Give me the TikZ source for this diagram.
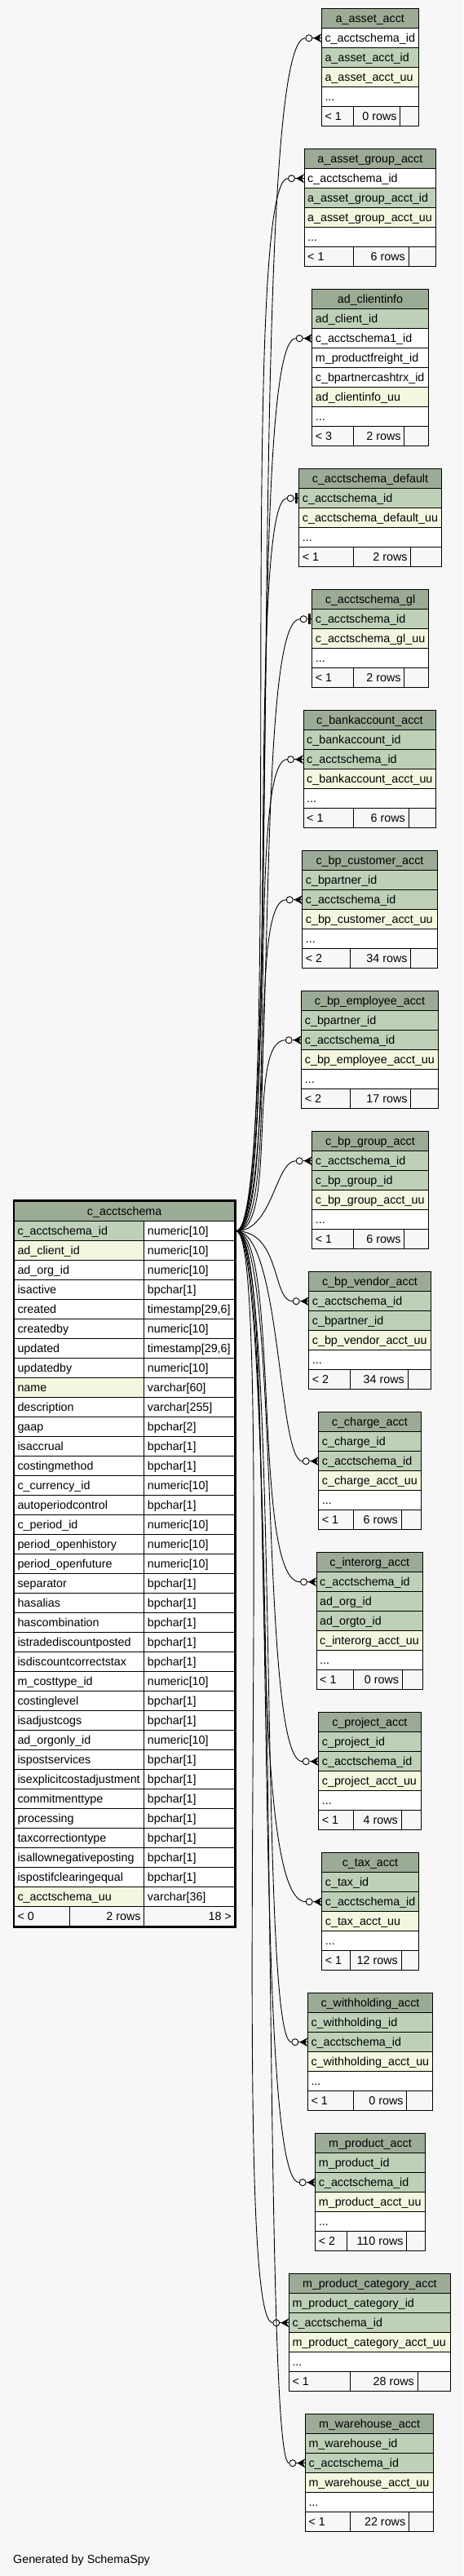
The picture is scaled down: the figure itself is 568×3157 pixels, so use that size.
\documentclass[tikz,border=0pt]{standalone}
\usepackage{fontspec}
\setmainfont{Liberation Sans}
\definecolor{bgc}{HTML}{F7F7F7}
\definecolor{hdc}{HTML}{9CAB96}
\definecolor{pkc}{HTML}{BED1B8}
\definecolor{ixc}{HTML}{F4F7E0}
\definecolor{wc}{HTML}{FFFFFF}
\newcommand\tf{\fontsize{14.3}{17}\selectfont}
\tikzset{
  cellb/.style={draw=black, line width=0.9pt, inner sep=0pt, outer sep=0pt, anchor=north west},
  txt/.style={inner sep=0pt, font=\tf, anchor=base west},
  edge/.style={draw=black, line width=0.9pt},
  dotc/.style={circle, draw=black, fill=white, line width=0.9pt, minimum size=8pt, inner sep=0pt},
}
\newcommand\Cell[6]{%
  \node[cellb, fill=#6, minimum width={(#4)*1pt-(#2)*1pt}, minimum height={(#5)*1pt-(#3)*1pt}] (#1) at ({#2},{#3}) {};}
\newcommand\tabset[4]{\def\Tid{#1}\def\Txa{#2}\def\Ttop{#3}\def\Txb{#4}}
\newcommand\tabhead[1]{%
  \Cell{\Tid-h}{\Txa}{\Ttop}{\Txb}{\Ttop+24}{hdc}
  \node[txt, anchor=base] (\Tid-ht) at ([yshift=-5pt]\Tid-h.center) {#1};}
\newcommand\tabrow[3]{%
  \Cell{\Tid-#1}{\Txa}{\Ttop+24+24*#1}{\Txb}{\Ttop+48+24*#1}{#2}
  \node[txt] (\Tid-#1t) at ([xshift=4pt,yshift=-5pt]\Tid-#1.west) {#3};}
\newcommand\tabfoot[5]{%
  \Cell{\Tid-f1}{\Txa}{\Ttop+24+24*#1}{#2}{\Ttop+48+24*#1}{bgc}
  \Cell{\Tid-f2}{#2}{\Ttop+24+24*#1}{#3}{\Ttop+48+24*#1}{bgc}
  \Cell{\Tid-f3}{#3}{\Ttop+24+24*#1}{\Txb}{\Ttop+48+24*#1}{bgc}
  \node[txt] (\Tid-fl) at ([xshift=4pt,yshift=-5pt]\Tid-f1.west) {#4};
  \node[txt, anchor=base east] (\Tid-fm) at ([xshift=-4pt,yshift=-5pt]\Tid-f2.east) {#5};}
\newcommand\MR[4]{%
  \Cell{m-#1}{17.3}{1496.7+24*#1}{176.7}{1520.7+24*#1}{#4}
  \Cell{m-#1y}{176.7}{1496.7+24*#1}{288}{1520.7+24*#1}{wc}
  \node[txt] (m-#1t) at ([xshift=4pt,yshift=-5pt]m-#1.west) {#2};
  \node[txt] (m-#1u) at ([xshift=4pt,yshift=-5pt]m-#1y.west) {#3};}
\newcommand\Crow[2]{%
  \node[dotc] (#2) at ([xshift=-15.5pt]#1.west) {};
  \draw[edge] (#2.east) -- (#1.west);
  \fill ([xshift=-10pt]#1.west) -- ([yshift=5.5pt]#1.west) -- ([xshift=-3pt]#1.west) -- ([yshift=-5.5pt]#1.west) -- cycle;}
\newcommand\Tee[2]{%
  \node[dotc] (#2) at ([xshift=-10.5pt]#1.west) {};
  \draw[edge] (#2.east) -- (#1.west);
  \fill ([xshift=-5pt,yshift=-6.5pt]#1.west) rectangle ([xshift=-1.5pt,yshift=6.5pt]#1.west);}
\newcommand\Edge[3]{\draw[edge] (mport) .. controls +(#2,0) and +(-#3,0) .. (#1.west);}

\begin{document}
\begin{tikzpicture}[x=1pt,y=-1pt]
\path[use as bounding box, fill=bgc] (0,0) rectangle (568,3157);

% ---------- main table ----------
\tabset{m}{17.3}{1472.7}{288}
\tabhead{c\_acctschema}
\MR{0}{c\_acctschema\_id}{numeric[10]}{pkc}
\MR{1}{ad\_client\_id}{numeric[10]}{ixc}
\MR{2}{ad\_org\_id}{numeric[10]}{wc}
\MR{3}{isactive}{bpchar[1]}{wc}
\MR{4}{created}{timestamp[29,6]}{wc}
\MR{5}{createdby}{numeric[10]}{wc}
\MR{6}{updated}{timestamp[29,6]}{wc}
\MR{7}{updatedby}{numeric[10]}{wc}
\MR{8}{name}{varchar[60]}{ixc}
\MR{9}{description}{varchar[255]}{wc}
\MR{10}{gaap}{bpchar[2]}{wc}
\MR{11}{isaccrual}{bpchar[1]}{wc}
\MR{12}{costingmethod}{bpchar[1]}{wc}
\MR{13}{c\_currency\_id}{numeric[10]}{wc}
\MR{14}{autoperiodcontrol}{bpchar[1]}{wc}
\MR{15}{c\_period\_id}{numeric[10]}{wc}
\MR{16}{period\_openhistory}{numeric[10]}{wc}
\MR{17}{period\_openfuture}{numeric[10]}{wc}
\MR{18}{separator}{bpchar[1]}{wc}
\MR{19}{hasalias}{bpchar[1]}{wc}
\MR{20}{hascombination}{bpchar[1]}{wc}
\MR{21}{istradediscountposted}{bpchar[1]}{wc}
\MR{22}{isdiscountcorrectstax}{bpchar[1]}{wc}
\MR{23}{m\_costtype\_id}{numeric[10]}{wc}
\MR{24}{costinglevel}{bpchar[1]}{wc}
\MR{25}{isadjustcogs}{bpchar[1]}{wc}
\MR{26}{ad\_orgonly\_id}{numeric[10]}{wc}
\MR{27}{ispostservices}{bpchar[1]}{wc}
\MR{28}{isexplicitcostadjustment}{bpchar[1]}{wc}
\MR{29}{commitmenttype}{bpchar[1]}{wc}
\MR{30}{processing}{bpchar[1]}{wc}
\MR{31}{taxcorrectiontype}{bpchar[1]}{wc}
\MR{32}{isallownegativeposting}{bpchar[1]}{wc}
\MR{33}{ispostifclearingequal}{bpchar[1]}{wc}
\MR{34}{c\_acctschema\_uu}{varchar[36]}{ixc}
\Cell{m-f1}{17.3}{2336.7}{85.7}{2360.7}{bgc}
\Cell{m-f2}{85.7}{2336.7}{176.7}{2360.7}{bgc}
\Cell{m-f3}{176.7}{2336.7}{288}{2360.7}{bgc}
\node[txt] (m-fl) at ([xshift=4pt,yshift=-5pt]m-f1.west) {< 0};
\node[txt, anchor=base east] (m-fm) at ([xshift=-4pt,yshift=-5pt]m-f2.east) {2 rows};
\node[txt, anchor=base east] (m-fr) at ([xshift=-4pt,yshift=-5pt]m-f3.east) {18 >};
\draw[line width=2.6pt] (16.8,1471.4) rectangle (288.6,2361.4);
\coordinate (mport) at ([xshift=1.5pt]m-0y.east);

% ---------- right tables ----------
\tabset{aa}{394.3}{10.7}{513.3}
\tabhead{a\_asset\_acct}
\tabrow{0}{wc}{c\_acctschema\_id}
\tabrow{1}{pkc}{a\_asset\_acct\_id}
\tabrow{2}{ixc}{a\_asset\_acct\_uu}
\tabrow{3}{wc}{...}
\tabfoot{4}{433.3}{490.7}{< 1}{0 rows}

\tabset{ag}{373}{182.7}{534.7}
\tabhead{a\_asset\_group\_acct}
\tabrow{0}{wc}{c\_acctschema\_id}
\tabrow{1}{pkc}{a\_asset\_group\_acct\_id}
\tabrow{2}{ixc}{a\_asset\_group\_acct\_uu}
\tabrow{3}{wc}{...}
\tabfoot{4}{433.3}{501}{< 1}{6 rows}

\tabset{ci}{382.7}{354.7}{525.3}
\tabhead{ad\_clientinfo}
\tabrow{0}{pkc}{ad\_client\_id}
\tabrow{1}{wc}{c\_acctschema1\_id}
\tabrow{2}{wc}{m\_productfreight\_id}
\tabrow{3}{wc}{c\_bpartnercashtrx\_id}
\tabrow{4}{ixc}{ad\_clientinfo\_uu}
\tabrow{5}{wc}{...}
\tabfoot{6}{433.3}{495.7}{< 3}{2 rows}

\tabset{sd}{366.7}{574.7}{541.3}
\tabhead{c\_acctschema\_default}
\tabrow{0}{pkc}{c\_acctschema\_id}
\tabrow{1}{ixc}{c\_acctschema\_default\_uu}
\tabrow{2}{wc}{...}
\tabfoot{3}{433.3}{503.7}{< 1}{2 rows}

\tabset{sg}{382.7}{722.7}{525.3}
\tabhead{c\_acctschema\_gl}
\tabrow{0}{pkc}{c\_acctschema\_id}
\tabrow{1}{ixc}{c\_acctschema\_gl\_uu}
\tabrow{2}{wc}{...}
\tabfoot{3}{433.3}{495.7}{< 1}{2 rows}

\tabset{ba}{372}{870.7}{534.7}
\tabhead{c\_bankaccount\_acct}
\tabrow{0}{pkc}{c\_bankaccount\_id}
\tabrow{1}{pkc}{c\_acctschema\_id}
\tabrow{2}{ixc}{c\_bankaccount\_acct\_uu}
\tabrow{3}{wc}{...}
\tabfoot{4}{433.3}{501}{< 1}{6 rows}

\tabset{bc}{370.7}{1042.7}{536.3}
\tabhead{c\_bp\_customer\_acct}
\tabrow{0}{pkc}{c\_bpartner\_id}
\tabrow{1}{pkc}{c\_acctschema\_id}
\tabrow{2}{ixc}{c\_bp\_customer\_acct\_uu}
\tabrow{3}{wc}{...}
\tabfoot{4}{429.3}{503.7}{< 2}{34 rows}

\tabset{be}{369.7}{1214.7}{537.3}
\tabhead{c\_bp\_employee\_acct}
\tabrow{0}{pkc}{c\_bpartner\_id}
\tabrow{1}{pkc}{c\_acctschema\_id}
\tabrow{2}{ixc}{c\_bp\_employee\_acct\_uu}
\tabrow{3}{wc}{...}
\tabfoot{4}{429.3}{503.7}{< 2}{17 rows}

\tabset{bg}{382.7}{1386.7}{525.3}
\tabhead{c\_bp\_group\_acct}
\tabrow{0}{pkc}{c\_acctschema\_id}
\tabrow{1}{pkc}{c\_bp\_group\_id}
\tabrow{2}{ixc}{c\_bp\_group\_acct\_uu}
\tabrow{3}{wc}{...}
\tabfoot{4}{433.3}{495.7}{< 1}{6 rows}

\tabset{bv}{378.7}{1558.7}{528.3}
\tabhead{c\_bp\_vendor\_acct}
\tabrow{0}{pkc}{c\_acctschema\_id}
\tabrow{1}{pkc}{c\_bpartner\_id}
\tabrow{2}{ixc}{c\_bp\_vendor\_acct\_uu}
\tabrow{3}{wc}{...}
\tabfoot{4}{429.3}{500}{< 2}{34 rows}

\tabset{ch}{390.7}{1730.7}{516}
\tabhead{c\_charge\_acct}
\tabrow{0}{pkc}{c\_charge\_id}
\tabrow{1}{pkc}{c\_acctschema\_id}
\tabrow{2}{ixc}{c\_charge\_acct\_uu}
\tabrow{3}{wc}{...}
\tabfoot{4}{433.3}{492}{< 1}{6 rows}

\tabset{io}{388}{1902.7}{518.7}
\tabhead{c\_interorg\_acct}
\tabrow{0}{pkc}{c\_acctschema\_id}
\tabrow{1}{pkc}{ad\_org\_id}
\tabrow{2}{pkc}{ad\_orgto\_id}
\tabrow{3}{ixc}{c\_interorg\_acct\_uu}
\tabrow{4}{wc}{...}
\tabfoot{5}{433.3}{493.3}{< 1}{0 rows}

\tabset{pj}{390.7}{2098.7}{516}
\tabhead{c\_project\_acct}
\tabrow{0}{pkc}{c\_project\_id}
\tabrow{1}{pkc}{c\_acctschema\_id}
\tabrow{2}{ixc}{c\_project\_acct\_uu}
\tabrow{3}{wc}{...}
\tabfoot{4}{433.3}{492}{< 1}{4 rows}

\tabset{tx}{394.7}{2270.7}{513.3}
\tabhead{c\_tax\_acct}
\tabrow{0}{pkc}{c\_tax\_id}
\tabrow{1}{pkc}{c\_acctschema\_id}
\tabrow{2}{ixc}{c\_tax\_acct\_uu}
\tabrow{3}{wc}{...}
\tabfoot{4}{429.3}{492}{< 1}{12 rows}

\tabset{wh}{377.3}{2442.7}{530.7}
\tabhead{c\_withholding\_acct}
\tabrow{0}{pkc}{c\_withholding\_id}
\tabrow{1}{pkc}{c\_acctschema\_id}
\tabrow{2}{ixc}{c\_withholding\_acct\_uu}
\tabrow{3}{wc}{...}
\tabfoot{4}{433.3}{498.7}{< 1}{0 rows}

\tabset{mp}{386.7}{2614.7}{521.3}
\tabhead{m\_product\_acct}
\tabrow{0}{pkc}{m\_product\_id}
\tabrow{1}{pkc}{c\_acctschema\_id}
\tabrow{2}{ixc}{m\_product\_acct\_uu}
\tabrow{3}{wc}{...}
\tabfoot{4}{425.3}{498.7}{< 2}{110 rows}

\tabset{mc}{354.3}{2786.7}{552.5}
\tabhead{m\_product\_category\_acct}
\tabrow{0}{pkc}{m\_product\_category\_id}
\tabrow{1}{pkc}{c\_acctschema\_id}
\tabrow{2}{ixc}{m\_product\_category\_acct\_uu}
\tabrow{3}{wc}{...}
\tabfoot{4}{429.3}{512}{< 1}{28 rows}

\tabset{mw}{374.3}{2958.7}{531.9}
\tabhead{m\_warehouse\_acct}
\tabrow{0}{pkc}{m\_warehouse\_id}
\tabrow{1}{pkc}{c\_acctschema\_id}
\tabrow{2}{ixc}{m\_warehouse\_acct\_uu}
\tabrow{3}{wc}{...}
\tabfoot{4}{429.3}{501.4}{< 1}{22 rows}

% ---------- relationship ends ----------
\Crow{aa-0}{aa-d}
\Crow{ag-0}{ag-d}
\Crow{ci-1}{ci-d}
\Tee{sd-0}{sd-d}
\Tee{sg-0}{sg-d}
\Crow{ba-1}{ba-d}
\Crow{bc-1}{bc-d}
\Crow{be-1}{be-d}
\Crow{bg-0}{bg-d}
\Crow{bv-0}{bv-d}
\Crow{ch-1}{ch-d}
\Crow{io-0}{io-d}
\Crow{pj-1}{pj-d}
\Crow{tx-1}{tx-d}
\Crow{wh-1}{wh-d}
\Crow{mp-1}{mp-d}
\Crow{mc-1}{mc-d}
\Crow{mw-1}{mw-d}

% ---------- connectors ----------
\Edge{aa-d}{60}{75}
\Edge{ag-d}{60}{64}
\Edge{ci-d}{58}{63}
\Edge{sd-d}{56}{52}
\Edge{sg-d}{56}{60}
\Edge{ba-d}{55}{52}
\Edge{bc-d}{55}{50}
\Edge{be-d}{52}{48}
\Edge{bg-d}{45}{25}
\Edge{bv-d}{55}{25}
\Edge{ch-d}{55}{30}
\Edge{io-d}{55}{60}
\Edge{pj-d}{55}{54}
\Edge{tx-d}{55}{81}
\Edge{wh-d}{55}{42}
\Edge{mp-d}{55}{62}
\Edge{mc-d}{50}{55}
\Edge{mw-d}{55}{35}

\node[txt] (gen) at (16,3141) {Generated by SchemaSpy};
\end{tikzpicture}
\end{document}
